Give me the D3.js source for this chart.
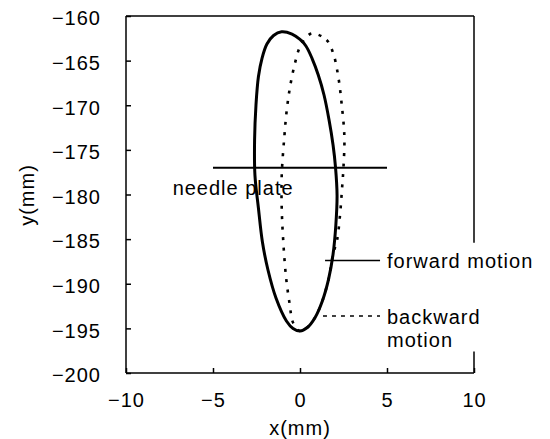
<!DOCTYPE html>
<html>
<head>
<meta charset="utf-8">
<script src="https://cdn.jsdelivr.net/npm/d3@7"></script>
<style>
  body { margin: 0; background: #fff; }
  text { font-family: "Liberation Sans", Arial, sans-serif; font-size: 20px; letter-spacing: 1px; fill: #000; }
</style>
</head>
<body>
<div id="chart"></div>
<script>

// forward motion loop (solid), clockwise from the top
var forwardX = [-1.06, -0.46, 0, 0.34, 0.69, 1.05, 1.38, 1.67, 1.9, 2.04, 2.13, 2.06, 1.9, 1.64, 1.28, 0.86, 0.42, 0, -0.4, -0.78, -1.38, -1.84, -2.16, -2.39, -2.59, -2.61, -2.53, -2.39, -2.18, -1.9, -1.52];
var forwardY = [-161.77, -162.02, -162.63, -163.36, -164.74, -166.61, -168.85, -171.65, -174.45, -176.92, -180.06, -183.42, -186.7, -189.5, -191.95, -193.8, -194.9, -195.29, -195.01, -194.17, -191.6, -188.46, -185.32, -181.51, -177.82, -173.89, -169.97, -166.8, -164.71, -163.14, -162.18];

// backward motion loop (dotted)
var backwardX = [0.72, 1.53, 1.91, 2.2, 2.39, 2.55, 2.5, 2.41, 2.3, 2.13, 1.9, 1.64, 1.28, 0.86, 0.42, 0, -0.39, -0.6, -0.8, -0.96, -1.05, -1.05, -0.9, -0.76, -0.57, -0.29, 0, 0.38];
var backwardY = [-161.94, -162.69, -164.18, -166.8, -169.78, -173.52, -176.9, -179.5, -182.3, -185.1, -186.7, -189.5, -191.95, -193.8, -194.9, -195.29, -194.4, -192.2, -189.3, -185.29, -181.55, -177.82, -173.52, -170.53, -167.92, -165.3, -163.44, -162.32];

// needle plate
var plateX = [-5, 5];
var plateY = [-177, -177];

var xTicks = [-10, -5, 0, 5, 10];
var yTicks = [-200, -195, -190, -185, -180, -175, -170, -165, -160];

function drawChart(){
    var svg = d3.select("#chart").append("svg")
        .attr("width", 550)
        .attr("height", 439);

    var x = d3.scaleLinear().domain([-10, 10]).range([126, 474]);
    var y = d3.scaleLinear().domain([-200, -160]).range([373, 16]);

    // axes (ticks point inward)
    var gx = svg.append("g")
        .attr("transform", "translate(0,373)")
        .call(d3.axisBottom(x).tickValues(xTicks).tickSizeInner(-5).tickSizeOuter(0).tickPadding(20));
    var gy = svg.append("g")
        .attr("transform", "translate(126,0)")
        .call(d3.axisLeft(y).tickValues(yTicks).tickSizeInner(-5).tickSizeOuter(0).tickPadding(25));
    gx.select(".domain").remove();
    gy.select(".domain").remove();
    svg.selectAll(".tick line").attr("stroke", "#000").attr("stroke-width", 1.5);
    svg.selectAll(".tick text").attr("font-size", null).attr("font-family", null);
    gy.selectAll(".tick text").attr("dy", "0.44em");

    // frame, right side broken where the labels sit
    var frame = [
        [[-10, -160], [10, -160]],
        [[-10, -160], [-10, -200]],
        [[-10, -200], [10, -200]],
        [[10, -160], [10, -185.4]],
        [[10, -197.6], [10, -200]]
    ];
    svg.selectAll("line.frame")
        .data(frame)
        .enter().append("line")
        .attr("class", "frame")
        .attr("x1", function(d){ return x(d[0][0]); })
        .attr("y1", function(d){ return y(d[0][1]); })
        .attr("x2", function(d){ return x(d[1][0]); })
        .attr("y2", function(d){ return y(d[1][1]); })
        .attr("stroke", "#000")
        .attr("stroke-width", 1.5);

    var line = d3.line()
        .x(function(d){ return x(d[0]); })
        .y(function(d){ return y(d[1]); });

    var loop = d3.line()
        .x(function(d){ return x(d[0]); })
        .y(function(d){ return y(d[1]); })
        .curve(d3.curveCatmullRomClosed);

    svg.append("path")
        .datum(d3.zip(plateX, plateY))
        .attr("d", line)
        .attr("fill", "none")
        .attr("stroke", "#000")
        .attr("stroke-width", 2);

    svg.append("path")
        .datum(d3.zip(backwardX, backwardY))
        .attr("d", loop)
        .attr("fill", "none")
        .attr("stroke", "#000")
        .attr("stroke-width", 2.6)
        .attr("stroke-dasharray", "3,7.5");

    svg.append("path")
        .datum(d3.zip(forwardX, forwardY))
        .attr("d", loop)
        .attr("fill", "none")
        .attr("stroke", "#000")
        .attr("stroke-width", 3);

    // leader lines and labels
    svg.append("line")
        .attr("x1", x(1.44)).attr("x2", x(4.6))
        .attr("y1", y(-187.4)).attr("y2", y(-187.4))
        .attr("stroke", "#000").attr("stroke-width", 1.5);
    svg.append("line")
        .attr("x1", x(1.32)).attr("x2", x(4.6))
        .attr("y1", y(-193.6)).attr("y2", y(-193.6))
        .attr("stroke", "#000").attr("stroke-width", 1.5)
        .attr("stroke-dasharray", "4,5");

    svg.append("text").attr("x", x(5.0)).attr("y", y(-188.2)).text("forward motion");
    svg.append("text").attr("x", x(5.0)).attr("y", y(-194.5)).text("backward");
    svg.append("text").attr("x", x(5.0)).attr("y", y(-197.1)).text("motion");
    svg.append("text").attr("x", x(-7.32)).attr("y", y(-180.1)).text("needle plate");

    // axis titles
    svg.append("text")
        .attr("x", 300).attr("y", 435)
        .attr("text-anchor", "middle")
        .text("x(mm)");
    svg.append("text")
        .attr("transform", "translate(34,195) rotate(-90)")
        .attr("text-anchor", "middle")
        .text("y(mm)");
}

drawChart()
</script>
</body>
</html>
